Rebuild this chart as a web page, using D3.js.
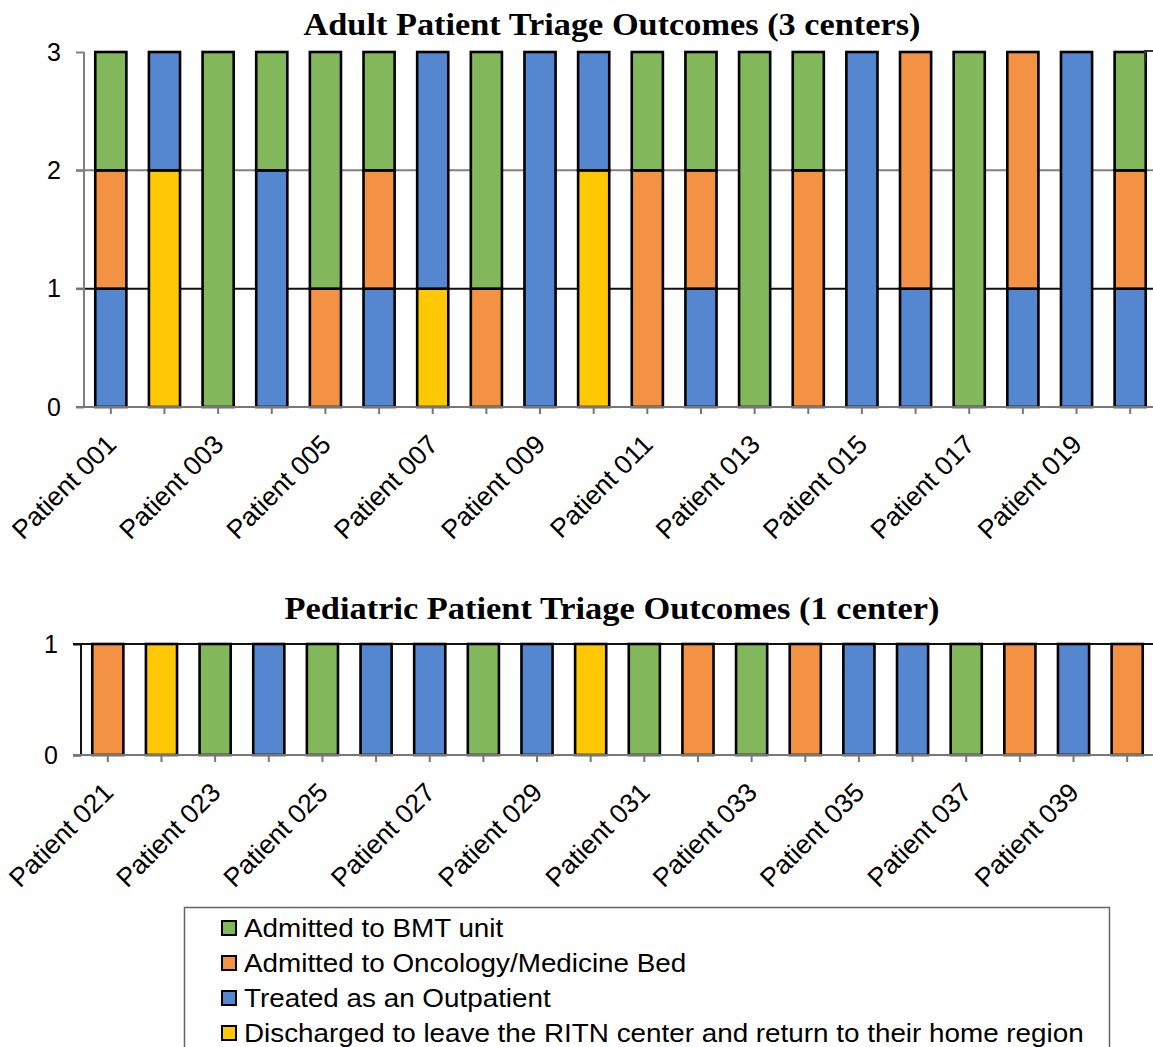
<!DOCTYPE html>
<html><head><meta charset="utf-8">
<script src="https://cdn.jsdelivr.net/npm/d3@7"></script>
<style>body{margin:0;background:#fff}svg{display:block}</style>
</head><body>
<svg id="c" width="1153" height="1047"></svg>
<script>
const seriesNames = ["Discharged to leave the RITN center and return to their home region","Treated as an Outpatient","Admitted to Oncology/Medicine Bed","Admitted to BMT unit"];
const seriesKeys = ["discharged","outpatient","oncology","bmt"];
const seriesColors = ["#FFC805","#5587D0","#F29242","#82B75B"];

const adultPatients = ["Patient 001","Patient 002","Patient 003","Patient 004","Patient 005","Patient 006","Patient 007","Patient 008","Patient 009","Patient 010","Patient 011","Patient 012","Patient 013","Patient 014","Patient 015","Patient 016","Patient 017","Patient 018","Patient 019","Patient 020"];
const adultDischarged = [0,2,0,0,0,0,1,0,0,2,0,0,0,0,0,0,0,0,0,0];
const adultOutpatient = [1,1,0,2,0,1,2,0,3,1,0,1,0,0,3,1,0,1,3,1];
const adultOncology   = [1,0,0,0,1,1,0,1,0,0,2,1,0,2,0,2,0,2,0,1];
const adultBMT        = [1,0,3,1,2,1,0,2,0,0,1,1,3,1,0,0,3,0,0,1];

const pedPatients = ["Patient 021","Patient 022","Patient 023","Patient 024","Patient 025","Patient 026","Patient 027","Patient 028","Patient 029","Patient 030","Patient 031","Patient 032","Patient 033","Patient 034","Patient 035","Patient 036","Patient 037","Patient 038","Patient 039","Patient 040"];
const pedDischarged = [0,1,0,0,0,0,0,0,0,1,0,0,0,0,0,0,0,0,0,0];
const pedOutpatient = [0,0,0,1,0,1,1,0,1,0,0,0,0,0,1,1,0,0,1,0];
const pedOncology   = [1,0,0,0,0,0,0,0,0,0,0,1,0,1,0,0,0,1,0,1];
const pedBMT        = [0,0,1,0,1,0,0,1,0,0,1,0,1,0,0,0,1,0,0,0];

const adultTicks = [0,1,2,3];
const pedTicks = [0,1];
const legendOrder = [3,2,1,0];

const svg = d3.select("#c");
const tickFont = "Liberation Sans, Arial, sans-serif";
const titleFont = "Liberation Serif, 'Times New Roman', serif";

function drawChart(o){
  const rows = o.cats.map((c,i)=>{const r={cat:c}; seriesKeys.forEach((k,j)=>r[k]=o.vals[j][i]); return r;});
  const stack = d3.stack().keys(seriesKeys)(rows);
  const x = d3.scaleBand().domain(o.cats).range([o.x0,o.x1]).paddingInner(0.42).paddingOuter(0.21);
  const y = d3.scaleLinear().domain([0,o.ymax]).range([o.y0,o.y1]);
  const g = svg.append("g");
  o.grid.forEach(gv=>{
    g.append("line").attr("x1",o.x0-8).attr("x2",1153).attr("y1",y(gv.v)).attr("y2",y(gv.v))
      .attr("stroke",gv.c).attr("stroke-width",2);
  });
  const ya = g.append("g").attr("transform",`translate(${o.x0},0)`)
    .call(d3.axisLeft(y).tickValues(o.ticks).tickFormat(d3.format("d")).tickSize(8).tickPadding(15));
  ya.select(".domain").attr("stroke",o.axisColor).attr("stroke-width",2).attr("d",`M0,${o.y0}V${o.y1}`);
  ya.selectAll(".tick line").attr("stroke",o.axisColor).attr("stroke-width",2);
  ya.selectAll(".tick text").attr("font-family",tickFont).attr("font-size",25).attr("fill","#000");
  stack.forEach((s,si)=>{
    g.append("g").selectAll("rect").data(s.filter(d=>d[1]-d[0]>0)).join("rect")
      .attr("x",d=>x(d.data.cat)).attr("width",x.bandwidth())
      .attr("y",d=>y(d[1])).attr("height",d=>y(d[0])-y(d[1]))
      .attr("fill",seriesColors[si]).attr("stroke","#000").attr("stroke-width",2.6);
  });
  const xa = g.append("g").attr("transform",`translate(0,${o.y0})`)
    .call(d3.axisBottom(x).tickSize(7).tickFormat((d,i)=>i%2===0?d:""));
  xa.select(".domain").attr("stroke","#777").attr("stroke-width",2).attr("d",`M${o.x0-8},0H1153`);
  xa.selectAll(".tick line").attr("stroke","#777").attr("stroke-width",2);
  xa.selectAll(".tick text").attr("font-family",tickFont).attr("font-size",26.5).attr("fill","#000")
    .attr("text-anchor","end").attr("dy",0).attr("y",0)
    .attr("transform","translate(7,39) rotate(-45)");
  svg.append("text").attr("x",o.tx).attr("y",o.ty).attr("text-anchor","middle")
    .attr("font-family",titleFont).attr("font-weight","bold").attr("font-size",31)
    .attr("textLength",o.tw).attr("lengthAdjust","spacingAndGlyphs").text(o.title);
}

drawChart({cats:adultPatients, vals:[adultDischarged,adultOutpatient,adultOncology,adultBMT],
  x0:84, x1:1157, y0:407, y1:52, ymax:3, ticks:adultTicks,
  grid:[{v:1,c:"#111"},{v:2,c:"#808080"}], axisColor:"#808080",
  title:"Adult Patient Triage Outcomes (3 centers)", tx:612, ty:35, tw:617});

drawChart({cats:pedPatients, vals:[pedDischarged,pedOutpatient,pedOncology,pedBMT],
  x0:81, x1:1154, y0:755, y1:644, ymax:1, ticks:pedTicks,
  grid:[{v:1,c:"#111"}], axisColor:"#111",
  title:"Pediatric Patient Triage Outcomes (1 center)", tx:612, ty:619, tw:655});

// small frame corner at top-right of the adult chart
svg.append("path").attr("d","M1145,62V51H1153").attr("fill","none").attr("stroke","#333").attr("stroke-width",2);

// legend
const lg = svg.append("g");
lg.append("rect").attr("x",184.5).attr("y",907.5).attr("width",925).attr("height",160)
  .attr("fill","#fff").attr("stroke","#666").attr("stroke-width",1.5);
const ly = d3.scalePoint().domain(legendOrder).range([928,1033]);
legendOrder.forEach(si=>{
  lg.append("rect").attr("x",222).attr("y",ly(si)-7).attr("width",14).attr("height",14)
    .attr("fill",seriesColors[si]).attr("stroke","#000").attr("stroke-width",2);
  const t = lg.append("text").attr("x",244).attr("y",ly(si)+9).attr("font-family",tickFont)
    .attr("font-size",26).text(seriesNames[si]);
  const w = t.node().getComputedTextLength();
  t.attr("textLength",w*1.07).attr("lengthAdjust","spacingAndGlyphs");
});
</script>
</body></html>
